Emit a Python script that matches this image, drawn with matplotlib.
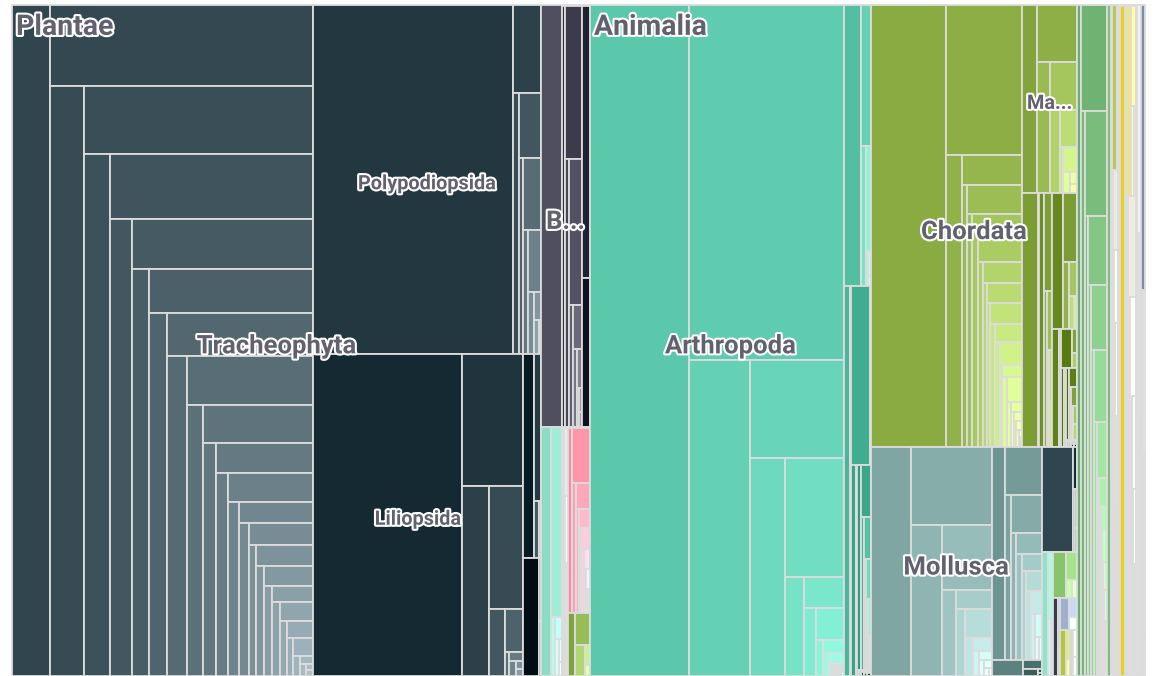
import matplotlib
matplotlib.use("Agg")
import matplotlib.pyplot as plt
from matplotlib.patches import Rectangle
import matplotlib.patheffects as pe
from matplotlib.colors import to_rgb, to_hex

# ---------------- data (species-count style values) ----------------
kingdoms = ["Plantae", "Animalia", "Fungi", "Chromista", "Protozoa", "Bacteria"]

phyla = ["Tracheophyta", "Bryophyta", "Marchantiophyta", "Anthocerotophyta", "Charophyta", "Rhodophyta", "Chlorophyta",
         "Arthropoda", "Chordata", "Mollusca", "Echinodermata", "Cnidaria", "Platyhelminthes", "Nematoda",
         "Porifera", "Annelida", "Bryozoa",
         "Ascomycota",
         "Ochrophyta", "Myzozoa", "Foraminifera",
         "Euglenozoa", "Amoebozoa", "Ciliophora", "Cercozoa", "Sulcozoa",
         "Proteobacteria", "Firmicutes", "Actinobacteria"]
phylum_kingdom = (["Plantae"] * 7 + ["Animalia"] * 10 + ["Fungi"] + ["Chromista"] * 3
                  + ["Protozoa"] * 5 + ["Bacteria"] * 3)
phylum_color = ["#30454d", "#4f4f5f", "#8cdbc4", "#9aa0a6", "#d6dad8", "#f68c9f", "#7ea43f",
                "#5bc8ab", "#8aab42", "#7fa6a2", "#2f4550", "#8ee3ca", "#88c46c", "#3a3a4c",
                "#9fb0cc", "#b4c540", "#d6d6d6",
                "#6aad6c",
                "#7cbf7c", "#b7c85c", "#dedede",
                "#e0e0e0", "#cccccc", "#ebcf1b", "#f2e480", "#e4e2d6",
                "#e0e0e0", "#7b8bab", "#e2e2e2"]

classes = ["Magnoliopsida", "Polypodiopsida", "Liliopsida", "Pinopsida", "Lycopodiopsida", "Gnetopsida",
           "Cycadopsida", "Ginkgoopsida", "Psilotopsida",
           "Bryopsida", "Andreaeopsida", "Sphagnopsida", "Polytrichopsida", "Tetraphidopsida",
           "Oedipodiopsida", "Andreaeobryopsida", "Takakiopsida",
           "Jungermanniopsida", "Anthocerotopsida", "Zygnematophyceae", "Florideophyceae", "Ulvophyceae",
           "Insecta", "Arachnida", "Malacostraca", "Collembola", "Diplopoda", "Hexanauplia",
           "Chilopoda", "Ostracoda", "Branchiopoda", "Pycnogonida", "Merostomata", "Protura", "Diplura", "Remipedia",
           "Actinopterygii", "Mammalia", "Aves", "Myxini", "Reptilia", "Amphibia", "Elasmobranchii",
           "Ascidiacea", "Holocephali", "Thaliacea", "Leptocardii", "Appendicularia", "Petromyzonti",
           "Dipneusti", "Coelacanthi", "Cephalaspidomorphi", "Sarcopterygii", "Placodermi",
           "Gastropoda", "Bivalvia", "Cephalopoda", "Polyplacophora", "Scaphopoda", "Monoplacophora", "Solenogastres",
           "Asteroidea", "Ophiuroidea", "Echinoidea", "Holothuroidea", "Crinoidea",
           "Anthozoa", "Trematoda", "Chromadorea", "Demospongiae", "Polychaeta", "Gymnolaemata",
           "Sordariomycetes",
           "Bacillariophyceae", "Dinophyceae", "Globothalamea",
           "Kinetoplastea", "Tubulinea", "Spirotrichea", "Thecofilosea", "Thecomonadea",
           "Gammaproteobacteria", "Bacilli", "Actinomycetia"]
class_phylum = (["Tracheophyta"] * 9 + ["Bryophyta"] * 8
                + ["Marchantiophyta", "Anthocerotophyta", "Charophyta", "Rhodophyta", "Chlorophyta"]
                + ["Arthropoda"] * 14 + ["Chordata"] * 18 + ["Mollusca"] * 7 + ["Echinodermata"] * 5
                + ["Cnidaria", "Platyhelminthes", "Nematoda", "Porifera", "Annelida", "Bryozoa"]
                + ["Ascomycota"] + ["Ochrophyta", "Myzozoa", "Foraminifera"]
                + ["Euglenozoa", "Amoebozoa", "Ciliophora", "Cercozoa", "Sulcozoa"]
                + ["Proteobacteria", "Firmicutes", "Actinobacteria"])
# values of the orders inside each class (same order as `classes`)
class_orders = [
    [255, 212, 201, 155, 130.5, 131.3, 100.5, 90, 69.2, 71.7, 65.3, 62.4, 64, 61.3, 43.4, 41.4, 30.3, 28.8,
     24.4, 24.4, 19.1, 15.3, 15.3, 13.9, 9.2, 11.8, 8.8, 9.6, 7.2, 6.4, 5.9, 6.1, 3.9, 4.3, 2.3, 3.4,
     1.2, 1.0, 0.8, 0.4, 0.4],
    [697, 24.4, 15.6, 14.3, 7.8, 12.8, 6.2, 8, 3.7, 2, 1.5, 0.8],
    [480, 80.6, 50.4, 42.2, 10.5, 7.9, 1.0, 1.3, 1.0, 0.6, 0.5],
    [23, 10, 2.4, 1.5], [18.5], [1.5], [0.9], [0.2], [0.2],
    [86], [0.3], [12, 26, 10.8, 19.1, 4.9, 4, 3, 2, 1, 0.6, 0.4], [22], [11.8], [0.1], [0.1], [0.1],
    [24, 21, 2.5, 1.5, 1.2, 0.8, 0.5], [0.3], [4, 3, 2.5, 2, 1.5, 1, 0.9],
    [7.3, 9.7, 5.1, 3.6, 3.1, 2, 2, 1.8, 1.5, 1.2, 1, 0.8, 0.5, 0.4], [4.6, 4.6, 3.1, 0.9, 0.5],
    [660, 550, 192, 92, 76, 70, 18.6, 12.8, 8.6, 8.9, 2.3, 2.6, 1.2, 1.5, 0.5, 0.4, 0.2, 0.2,
     0.1, 0.1, 0.1, 0.1, 0.1, 0.1, 0.1, 0.1, 0.1, 0.1],
    [48, 14, 6, 6, 1, 0.7, 0.3], [22, 3, 1.5, 0.5], [33, 2, 1], [11, 1, 0.5],
    [9, 5, 4, 3, 2.5, 2, 1.5, 1, 0.5, 0.5],
    [0.1], [0.1], [0.1], [0.1], [0.1], [0.1], [0.1], [0.1],
    [327, 115, 46.7, 18.3, 13.1, 16.2, 11.7, 8.7, 13, 13.5, 9.3, 8.4, 6.6, 7.2, 4.4, 6.6, 6.3, 5.1,
     5.3, 5.1, 1.7, 2.4, 3.6, 3.8, 1.8, 1.1, 1, 0.8, 0.6, 0.5, 0.4, 0.3, 0.2, 0.2],
    [28.2, 22.2, 15.7, 13, 8.3, 6.3, 1.4, 3.5, 1.5, 0.8, 0.6], [40, 2, 1], [0.2],
    [12, 8, 5, 3, 2, 1.5, 1, 0.4], [15, 9, 4, 2.5, 1.5, 0.9], [8, 1.5, 0.9], [4, 1.2, 0.8], [2.5, 1.3],
    [2, 1.5, 1.2, 1, 0.8, 0.6, 0.5], [0.1], [0.1], [0.1], [0.1], [0.1], [0.1], [0.1], [0.1],
    [90, 62.4, 47.4, 32, 11.6, 7, 6.2, 7.8, 3.1, 2.3, 1.5, 1.2, 0.8, 0.6, 0.4, 0.2],
    [27.8, 17.3, 10, 11.4, 6.4, 5.3, 6.4, 3.4, 3.6, 2.9, 3, 2.5, 2, 1.5, 1, 0.5],
    [5], [1.7], [1.0], [0.1], [0.1],
    [32.9], [1.5], [1], [0.8], [0.5],
    [8, 3, 1.5, 0.6, 0.5], [6, 3, 1.2, 0.8], [4, 1, 0.5], [3, 1.4, 1], [3, 1, 0.6], [1.5, 1, 0.7],
    [26.8, 27.6, 22.6, 23.1, 13.8, 13.1, 11.7, 10.4, 9.8, 9.4, 7.6, 5.6, 4, 2.3, 3.4, 1.4, 2, 1.5,
     1.2, 1, 0.9, 0.8, 0.6, 0.4, 0.4],
    [28, 3, 1.5, 1], [8, 1.9], [5, 4, 4, 3, 3, 3, 2.5, 2, 2, 1.5, 0.4],
    [5, 4, 2.4, 2], [0.2], [36, 3, 1.3], [9.5, 5, 3, 1.5], [10, 8, 7, 6, 5, 4, 3, 2, 1.5, 1, 0.5],
    [10, 8, 6, 4, 3, 2, 0.5], [11.4], [6, 4, 3, 2, 0.4],
]

# ---------------- build the hierarchy ----------------
def brighten(col, alpha):
    r, g, b = [int(round(c * 255)) for c in to_rgb(col)]
    d = int(alpha * 255)
    return to_hex([min(255, max(0, c + d)) / 255 for c in (r, g, b)])

root = {"name": "root", "children": [], "level": 0}
kmap = {}
for k in kingdoms:
    node = {"name": k, "children": [], "level": 1}
    root["children"].append(node)
    kmap[k] = node
pmap = {}
for p, k, c in zip(phyla, phylum_kingdom, phylum_color):
    node = {"name": p, "children": [], "level": 2, "color": c}
    kmap[k]["children"].append(node)
    pmap[p] = node
for cname, p, ords in zip(classes, class_phylum, class_orders):
    node = {"name": cname, "level": 3,
            "children": [{"name": "", "level": 4, "children": [], "value": v} for v in ords]}
    pmap[p]["children"].append(node)

def total(node):
    if not node["children"]:
        return node["value"]
    node["value"] = sum(total(ch) for ch in node["children"])
    return node["value"]
total(root)

# colours: phylum colour from palette, classes darken by index, orders brighten by index
for p in pmap.values():
    n = len(p["children"])
    for i, c in enumerate(p["children"]):
        c["color"] = brighten(p["color"], -0.5 * i / n)
        m = len(c["children"])
        for j, o in enumerate(c["children"]):
            o["color"] = brighten(c["color"], 0.5 * j / m)

W, H = 1133.0, 671.0

def layout(node, x, y, w, h):
    node["rect"] = (x, y, w, h)
    kids = node["children"]
    if not kids:
        return
    area = w * h
    tot = node["value"]
    cx, cy, cw, ch = x, y, w, h
    d = 0
    for k in kids:
        a = area * k["value"] / tot
        if d == 0:
            kw = a / ch if ch > 1e-9 else 0.0
            layout(k, cx, cy, kw, ch)
            cx += kw
            cw -= kw
        else:
            kh = a / cw if cw > 1e-9 else 0.0
            layout(k, cx, cy, cw, kh)
            cy += kh
            ch -= kh
        if node["level"] > 0:      # slice-and-dice below the root, stripes at the root
            d = 1 - d

layout(root, 0, 0, W, H)

# ---------------- draw ----------------
fig = plt.figure(figsize=(11.55, 6.76), dpi=100, facecolor="white")
ax = fig.add_axes([12 / 1155, 0, W / 1155, H / 676])
ax.set_xlim(0, W)
ax.set_ylim(H, 0)
ax.axis("off")

levels = {1: [], 2: [], 3: []}
def walk(node):
    if node["level"] in levels:
        levels[node["level"]].append(node)
    if not node["children"]:
        x, y, w, h = node["rect"]
        ax.add_patch(Rectangle((x, y), w, h, facecolor=node["color"], edgecolor="#dcdcdc",
                               linewidth=1.3, clip_on=False, zorder=1))
    for ch in node["children"]:
        walk(ch)
walk(root)

fig.canvas.draw()
renderer = fig.canvas.get_renderer()
font_size = {1: 20.5, 2: 18.5, 3: 14.3}
placed = []
for lev in (1, 2, 3):
    for node in levels[lev]:
        x, y, w, h = node["rect"]
        fs = font_size[lev]
        em = fs * 100 / 72
        if h < em * 1.1 or w < 10:
            continue
        if lev == 1:
            tx, ty, ha = x + 4, y + 1.05 * em, "left"
        else:
            tx, ty, ha = x + w / 2, y + h / 2 + 0.5 * em, "center"
        t = ax.text(tx, ty, node["name"], ha=ha, va="baseline", fontsize=fs, fontweight="bold",
                    family="Roboto", color="#626170", zorder=5,
                    path_effects=[pe.withStroke(linewidth=3, foreground="white")])
        avail = w - 8
        name = node["name"]
        ok = t.get_window_extent(renderer).width <= avail
        k = len(name) - 1
        while not ok and k >= 1:
            t.set_text(name[:k] + "...")
            ok = t.get_window_extent(renderer).width <= avail
            k -= 1
        if not ok:
            t.remove()
            continue
        bb = t.get_window_extent(renderer).expanded(1.02, 1.0)
        if any(bb.overlaps(o) for o in placed):
            t.remove()
            continue
        placed.append(bb)

fig.savefig("out.png", dpi=100, facecolor="white")
